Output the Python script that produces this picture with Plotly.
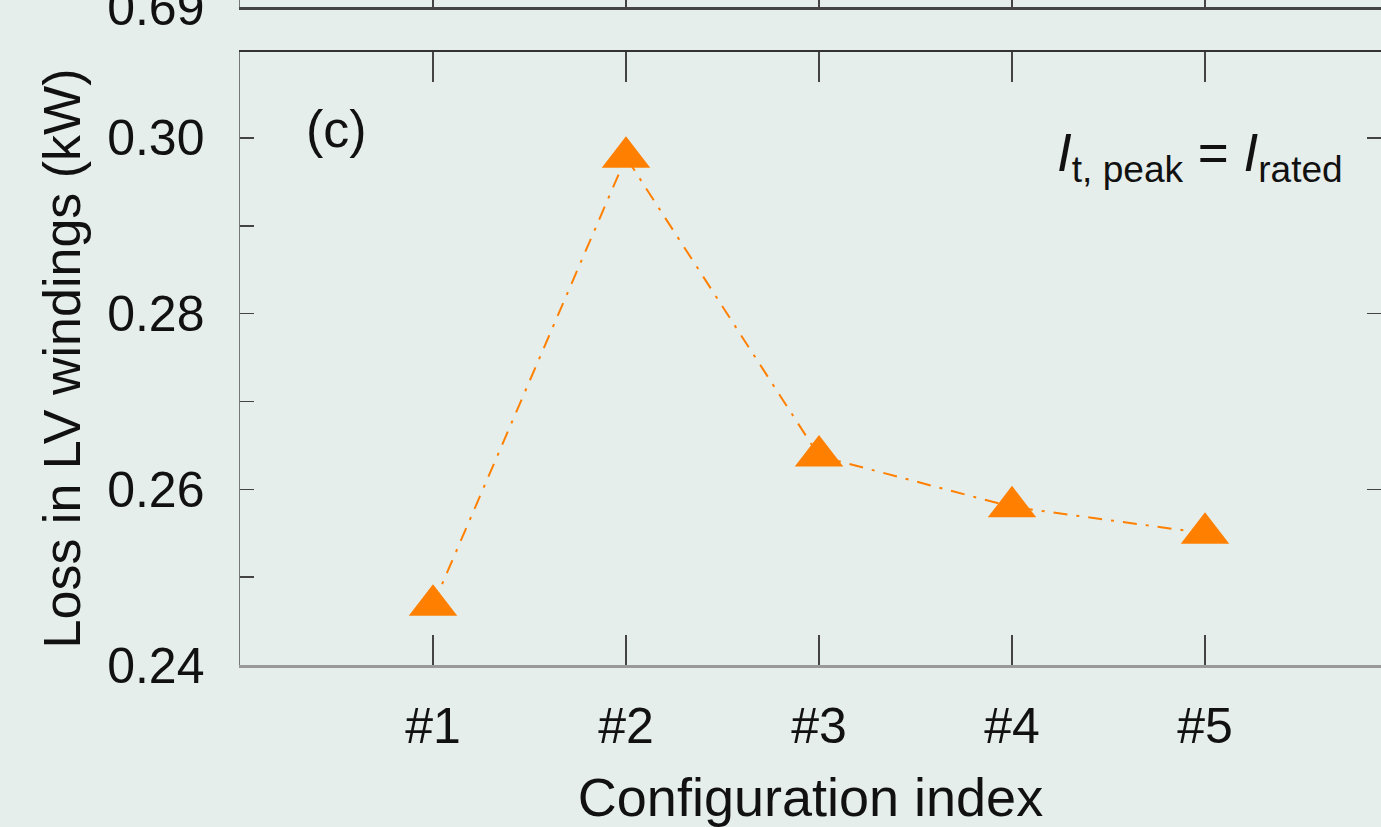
import plotly.graph_objects as go

# ---- data ----
config_idx = [1, 2, 3, 4, 5]
config_labels = ["#1", "#2", "#3", "#4", "#5"]
lv_loss_kw = [0.2468, 0.2978, 0.2638, 0.2580, 0.2550]
y_ticks_major = [0.24, 0.26, 0.28, 0.30]
y_tick_labels = ["0.24", "0.26", "0.28", "0.30"]
upper_tick_vals = [0.69]
upper_tick_labels = ["0.69"]

W, H = 1381, 827
ML, MB, MT, MR = 240, 162, 0, 0
plot_h = H - MB - MT  # 665
main_top_px = 52
main_dom_top = (plot_h - main_top_px) / plot_h
upper_line_px = 7
upper_dom_bot = (plot_h - upper_line_px) / plot_h

px_per_unit_x = 193
x_range = [0, (W - ML - MR) / px_per_unit_x]
px_per_unit_y = 8785
y_range = [0.24, 0.24 + (plot_h - main_top_px) / px_per_unit_y]

FONT = "Liberation Sans, Arial, sans-serif"
BG = "#e6eeeb"
ORANGE = "#ff8000"

fig = go.Figure()

# main series
fig.add_trace(go.Scatter(
    x=config_idx, y=lv_loss_kw, mode="lines+markers",
    line=dict(color=ORANGE, width=2, dash="14px,9px,3px,9px"),
    marker=dict(symbol="triangle-up", size=42, color=ORANGE),
    showlegend=False, hoverinfo="skip", xaxis="x", yaxis="y",
))
# invisible helpers so overlay axes (top ticks, right ticks) and upper panel render
fig.add_trace(go.Scatter(x=config_idx, y=lv_loss_kw, mode="markers",
                         marker=dict(opacity=0), showlegend=False,
                         hoverinfo="skip", xaxis="x3", yaxis="y"))
fig.add_trace(go.Scatter(x=config_idx, y=lv_loss_kw, mode="markers",
                         marker=dict(opacity=0), showlegend=False,
                         hoverinfo="skip", xaxis="x", yaxis="y3"))
fig.add_trace(go.Scatter(x=config_idx, y=[upper_tick_vals[0]] * len(config_idx),
                         mode="markers", marker=dict(opacity=0), showlegend=False,
                         hoverinfo="skip", xaxis="x2", yaxis="y2"))

tickfont = dict(family=FONT, size=50, color="#111")

fig.update_layout(
    width=W, height=H, autosize=False,
    margin=dict(l=ML, r=MR, t=MT, b=MB, pad=0),
    paper_bgcolor=BG, plot_bgcolor=BG,
    font=dict(family=FONT, color="#111"),
    xaxis=dict(
        domain=[0, 1], range=x_range, anchor="y",
        tickmode="array", tickvals=config_idx, ticktext=config_labels,
        ticks="inside", ticklen=30, tickwidth=1.5, tickcolor="#444",
        showline=True, linecolor="#999", linewidth=2.5,
        showgrid=False, zeroline=False, tickfont=tickfont,
        ticklabelstandoff=15,
        title=dict(text="Configuration index", font=dict(family=FONT, size=54, color="#111"),
                   standoff=46),
        automargin=False,
    ),
    xaxis3=dict(
        range=x_range, overlaying="x", side="top", anchor="y",
        tickmode="array", tickvals=config_idx, showticklabels=False,
        ticks="inside", ticklen=30, tickwidth=1.5, tickcolor="#444",
        showline=True, linecolor="#333", linewidth=2.5,
        showgrid=False, zeroline=False,
    ),
    yaxis=dict(
        domain=[0, main_dom_top], range=y_range, anchor="x",
        tickmode="array", tickvals=y_ticks_major, ticktext=y_tick_labels,
        ticks="inside", ticklen=14, tickwidth=1.5, tickcolor="#444",
        minor=dict(dtick=0.01, tick0=0.24, ticks="inside", ticklen=14,
                   tickwidth=1.5, tickcolor="#444", showgrid=False),
        showline=True, linecolor="#777", linewidth=1.5,
        showgrid=False, zeroline=False, tickfont=tickfont,
        ticklabelstandoff=24,
        title=dict(text="Loss in LV windings (kW)", font=dict(family=FONT, size=52, color="#111"),
                   standoff=10),
        automargin=False,
    ),
    yaxis3=dict(
        range=y_range, overlaying="y", side="right", anchor="x",
        tickmode="array", tickvals=y_ticks_major, showticklabels=False,
        ticks="inside", ticklen=14, tickwidth=1.5, tickcolor="#444",
        showline=False, showgrid=False, zeroline=False,
    ),
    xaxis2=dict(
        domain=[0, 1], range=x_range, anchor="y2",
        tickmode="array", tickvals=config_idx, showticklabels=False,
        ticks="inside", ticklen=30, tickwidth=1.5, tickcolor="#444",
        showline=True, linecolor="#444", linewidth=2.5,
        showgrid=False, zeroline=False,
    ),
    yaxis2=dict(
        domain=[upper_dom_bot, 1], range=[0.69, 0.70], anchor="x2",
        tickmode="array", tickvals=upper_tick_vals, ticktext=upper_tick_labels,
        ticks="inside", ticklen=14, tickcolor="#444",
        showline=True, linecolor="#777", linewidth=1.5,
        showgrid=False, zeroline=False, tickfont=tickfont,
        ticklabelstandoff=24, ticklabeloverflow="allow", automargin=False,
    ),
    annotations=[
        dict(text="(c)", xref="x domain", yref="y domain", x=0.085, y=0.875,
             xanchor="center", yanchor="middle", showarrow=False,
             font=dict(family=FONT, size=52, color="#111")),
        dict(text="<i>I</i><sub>t, peak</sub> = <i>I</i><sub>rated</sub>",
             xref="x domain", yref="y domain", x=0.9685, y=0.83,
             xanchor="right", yanchor="middle", showarrow=False,
             font=dict(family=FONT, size=53, color="#111")),
    ],
)

fig.write_html("out.html",
               config={"displayModeBar": False, "staticPlot": True},
               post_script="document.body.style.margin='0';document.body.style.overflow='hidden';")
